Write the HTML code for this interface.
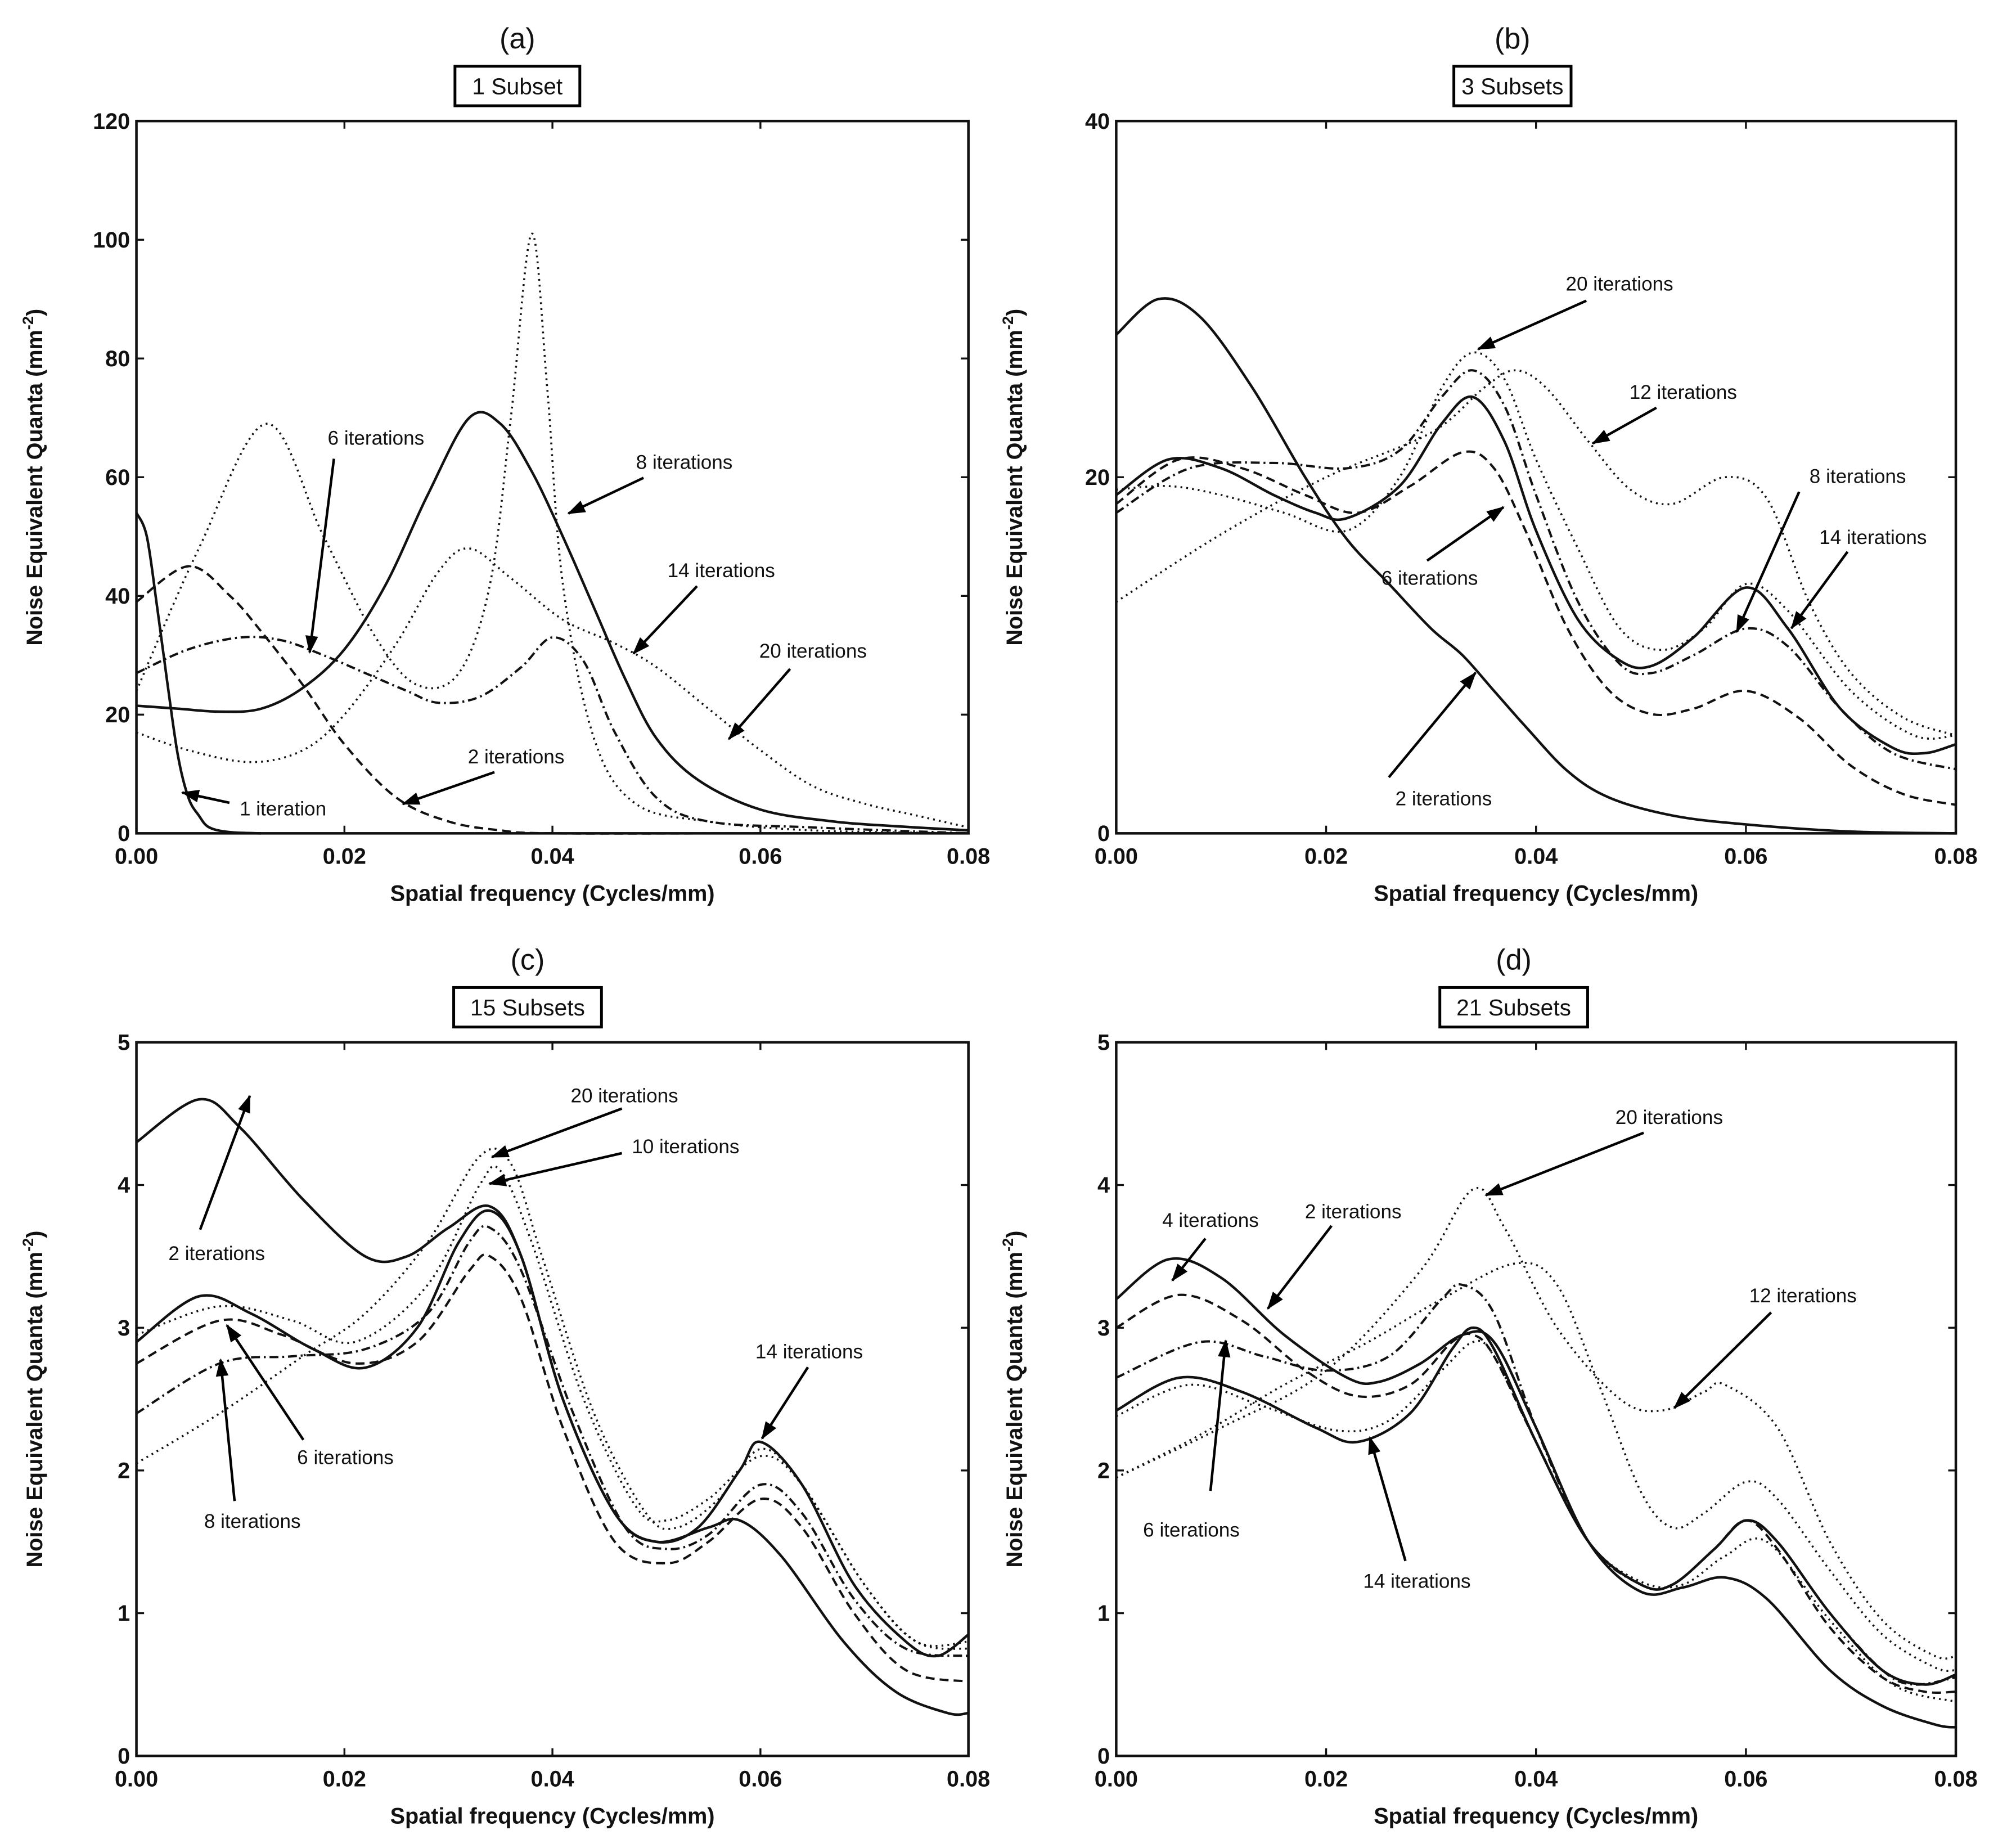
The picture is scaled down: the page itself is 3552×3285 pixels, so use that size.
<!DOCTYPE html>
<html><head><meta charset="utf-8">
<style>
html,body{margin:0;padding:0;background:#fff;}
svg{display:block;}
text{font-family:"Liberation Sans",sans-serif;fill:#111;}
.tick{font-size:17.5px;font-weight:bold;}
.axl{font-size:17.5px;font-weight:bold;}
.ann{font-size:15.5px;}
.plet{font-size:23px;}
.box{font-size:18px;}
</style></head>
<body>
<svg id="fig" width="3552" height="3285" viewBox="0 0 1568 1450.3" xmlns="http://www.w3.org/2000/svg">
<defs><marker id="ah" markerWidth="14" markerHeight="10" refX="13" refY="5" orient="auto" markerUnits="userSpaceOnUse"><path d="M0,0 L14,5 L0,10 z" fill="#000"/></marker></defs>
</svg>
<script>
// ---------- Data ----------
const xTicks = [0, 0.02, 0.04, 0.06, 0.08];
const xTickLabels = ["0.00", "0.02", "0.04", "0.06", "0.08"];
const yTicksA = [0, 20, 40, 60, 80, 100, 120];
const yTicksB = [0, 20, 40];
const yTicksCD = [0, 1, 2, 3, 4, 5];

// Panel (a) – 1 subset
const a_it1_x = [0, 0.001, 0.002, 0.003, 0.004, 0.005, 0.006, 0.007, 0.009, 0.012];
const a_it1_y = [54, 50, 38, 25, 13, 6, 3, 1, 0.2, 0];
const a_it2_x = [0, 0.005, 0.009, 0.012, 0.016, 0.02, 0.025, 0.03, 0.035, 0.04, 0.06, 0.08];
const a_it2_y = [39, 45, 40, 34, 25, 15, 6, 2, 0.5, 0, 0, 0];
const a_it6_x = [0, 0.006, 0.0125, 0.018, 0.023, 0.027, 0.031, 0.034, 0.036, 0.038, 0.0395, 0.041, 0.044, 0.048, 0.055, 0.065, 0.08];
const a_it6_y = [24, 48, 69, 50, 33, 25, 27, 42, 70, 101, 75, 42, 16, 5, 2, 0.5, 0];
const a_it20_x = [0, 0.005, 0.011, 0.016, 0.02, 0.025, 0.029, 0.032, 0.036, 0.041, 0.046, 0.05, 0.055, 0.06, 0.065, 0.07, 0.075, 0.08];
const a_it20_y = [17, 14, 12, 14, 20, 32, 44, 48, 43, 36, 32, 28, 21, 14, 8, 5, 3, 1];
const a_it14_x = [0, 0.005, 0.01, 0.014, 0.018, 0.022, 0.026, 0.029, 0.033, 0.037, 0.04, 0.043, 0.046, 0.05, 0.055, 0.065, 0.08];
const a_it14_y = [27, 31, 33, 32.5, 30, 27, 24, 22, 23, 28, 33, 29, 17, 6, 2, 1, 0];
const a_it8_x = [0, 0.004, 0.008, 0.012, 0.016, 0.02, 0.024, 0.028, 0.032, 0.035, 0.038, 0.041, 0.044, 0.047, 0.05, 0.054, 0.06, 0.067, 0.073, 0.08];
const a_it8_y = [21.5, 21, 20.5, 21, 24.5, 31, 42, 57, 70, 69, 61, 50, 38, 26, 16, 9, 4, 2, 1.2, 0.5];

// Panel (b) – 3 subsets
const b_it2_x = [0, 0.004, 0.008, 0.013, 0.018, 0.022, 0.026, 0.03, 0.033, 0.036, 0.039, 0.043, 0.047, 0.053, 0.06, 0.07, 0.08];
const b_it2_y = [28, 30, 29, 25, 20, 16.5, 14, 11.5, 10, 8, 6, 3.5, 2, 1, 0.5, 0.1, 0];
const b_it8_x = [0, 0.005, 0.01, 0.015, 0.019, 0.022, 0.027, 0.031, 0.034, 0.037, 0.04, 0.044, 0.048, 0.051, 0.055, 0.06, 0.064, 0.069, 0.074, 0.077, 0.08];
const b_it8_y = [19, 21, 20.5, 19, 18, 17.7, 19.5, 23, 24.5, 22, 17, 12, 9.7, 9.4, 11, 13.8, 11.5, 7, 4.8, 4.5, 5];
const b_it6_x = [0, 0.006, 0.012, 0.018, 0.023, 0.028, 0.033, 0.036, 0.039, 0.043, 0.047, 0.051, 0.055, 0.06, 0.065, 0.07, 0.075, 0.08];
const b_it6_y = [18.5, 21, 20.5, 19, 18, 19.5, 21.4, 20.5, 17, 11.5, 8, 6.7, 7, 8, 6.5, 3.8, 2.2, 1.6];
const b_it14_x = [0, 0.007, 0.015, 0.022, 0.027, 0.031, 0.034, 0.037, 0.04, 0.044, 0.048, 0.051, 0.055, 0.06, 0.064, 0.069, 0.074, 0.08];
const b_it14_y = [18, 20.5, 20.8, 20.5, 21.5, 24.5, 26, 24, 19, 13, 9.5, 9, 10, 11.5, 10.5, 7, 4.5, 3.6];
const b_it20_x = [0, 0.005, 0.01, 0.016, 0.022, 0.027, 0.031, 0.034, 0.037, 0.04, 0.044, 0.048, 0.052, 0.056, 0.06, 0.064, 0.07, 0.076, 0.08];
const b_it20_y = [19.3, 19.5, 19, 18, 17, 20, 25, 27, 25.5, 21, 16, 11.5, 10.3, 11.5, 14, 12.5, 8, 5.5, 5.5];
const b_it12_x = [0, 0.01, 0.02, 0.03, 0.035, 0.038, 0.041, 0.045, 0.049, 0.053, 0.058, 0.062, 0.066, 0.07, 0.075, 0.08];
const b_it12_y = [13, 16.8, 20, 22.5, 25, 26, 25, 22, 19.3, 18.5, 20, 18.8, 13, 9, 6.5, 5.5];

// Panel (c) – 15 subsets
const c_it2_x = [0, 0.006, 0.01, 0.016, 0.022, 0.026, 0.03, 0.034, 0.037, 0.041, 0.046, 0.05, 0.055, 0.058, 0.062, 0.068, 0.073, 0.078, 0.08];
const c_it2_y = [4.3, 4.6, 4.4, 3.9, 3.5, 3.5, 3.7, 3.85, 3.5, 2.5, 1.7, 1.5, 1.6, 1.65, 1.4, 0.8, 0.45, 0.3, 0.3];
const c_it14_x = [0, 0.006, 0.011, 0.017, 0.022, 0.027, 0.031, 0.034, 0.037, 0.041, 0.046, 0.05, 0.054, 0.058, 0.06, 0.064, 0.069, 0.074, 0.077, 0.08];
const c_it14_y = [2.9, 3.22, 3.1, 2.85, 2.72, 3.0, 3.6, 3.82, 3.5, 2.5, 1.7, 1.5, 1.6, 2.0, 2.2, 1.9, 1.2, 0.8, 0.7, 0.85];
const c_it6_x = [0, 0.008, 0.014, 0.021, 0.027, 0.032, 0.034, 0.037, 0.041, 0.046, 0.051, 0.055, 0.06, 0.064, 0.069, 0.074, 0.08];
const c_it6_y = [2.75, 3.05, 2.95, 2.75, 2.9, 3.4, 3.5, 3.2, 2.3, 1.5, 1.35, 1.5, 1.8, 1.6, 1.0, 0.6, 0.52];
const c_it8_x = [0, 0.008, 0.015, 0.022, 0.028, 0.032, 0.034, 0.037, 0.042, 0.047, 0.051, 0.055, 0.06, 0.064, 0.069, 0.074, 0.08];
const c_it8_y = [2.4, 2.75, 2.8, 2.85, 3.1, 3.6, 3.7, 3.4, 2.4, 1.6, 1.45, 1.55, 1.9, 1.7, 1.1, 0.75, 0.7];
const c_it10_x = [0, 0.008, 0.015, 0.021, 0.028, 0.033, 0.035, 0.038, 0.043, 0.048, 0.051, 0.055, 0.06, 0.064, 0.07, 0.075, 0.08];
const c_it10_y = [2.95, 3.15, 3.05, 2.9, 3.3, 4.0, 4.1, 3.6, 2.5, 1.75, 1.65, 1.8, 2.1, 1.9, 1.2, 0.8, 0.75];
const c_it20_x = [0, 0.008, 0.016, 0.022, 0.028, 0.033, 0.036, 0.039, 0.044, 0.049, 0.052, 0.056, 0.06, 0.064, 0.07, 0.075, 0.08];
const c_it20_y = [2.05, 2.4, 2.8, 3.1, 3.6, 4.2, 4.15, 3.5, 2.4, 1.7, 1.6, 1.8, 2.15, 1.9, 1.2, 0.8, 0.8];

// Panel (d) – 21 subsets
const d_it2_x = [0, 0.005, 0.01, 0.016, 0.022, 0.025, 0.029, 0.033, 0.036, 0.04, 0.045, 0.05, 0.054, 0.058, 0.062, 0.068, 0.073, 0.078, 0.08];
const d_it2_y = [3.2, 3.48, 3.35, 2.95, 2.65, 2.62, 2.75, 2.95, 2.9, 2.3, 1.5, 1.15, 1.18, 1.25, 1.1, 0.6, 0.35, 0.22, 0.2];
const d_it14_x = [0, 0.006, 0.012, 0.019, 0.023, 0.028, 0.032, 0.034, 0.036, 0.04, 0.045, 0.05, 0.053, 0.057, 0.06, 0.063, 0.068, 0.073, 0.077, 0.08];
const d_it14_y = [2.42, 2.65, 2.55, 2.3, 2.2, 2.4, 2.85, 3.0, 2.85, 2.2, 1.5, 1.2, 1.2, 1.45, 1.65, 1.5, 1.0, 0.6, 0.5, 0.57];
const d_it4_x = [0, 0.006, 0.012, 0.018, 0.023, 0.028, 0.032, 0.034, 0.036, 0.04, 0.045, 0.05, 0.053, 0.057, 0.06, 0.063, 0.068, 0.073, 0.077, 0.08];
const d_it4_y = [3.0, 3.23, 3.05, 2.7, 2.52, 2.6, 2.9, 2.95, 2.8, 2.2, 1.5, 1.2, 1.2, 1.45, 1.65, 1.45, 0.9, 0.55, 0.45, 0.45];
const d_it6_x = [0, 0.008, 0.014, 0.02, 0.026, 0.031, 0.033, 0.036, 0.04, 0.045, 0.05, 0.053, 0.057, 0.06, 0.063, 0.068, 0.073, 0.076, 0.08];
const d_it6_y = [2.65, 2.9, 2.8, 2.7, 2.8, 3.2, 3.3, 3.1, 2.3, 1.5, 1.2, 1.2, 1.45, 1.65, 1.5, 1.0, 0.6, 0.5, 0.55];
const d_it8_x = [0, 0.007, 0.014, 0.021, 0.026, 0.031, 0.034, 0.036, 0.04, 0.045, 0.05, 0.054, 0.058, 0.062, 0.068, 0.074, 0.08];
const d_it8_y = [2.38, 2.6, 2.45, 2.28, 2.35, 2.7, 2.9, 2.8, 2.2, 1.5, 1.22, 1.2, 1.4, 1.5, 0.95, 0.5, 0.38];
const d_it12_x = [0, 0.008, 0.016, 0.024, 0.031, 0.038, 0.042, 0.046, 0.05, 0.053, 0.056, 0.06, 0.063, 0.068, 0.073, 0.078, 0.08];
const d_it12_y = [1.95, 2.25, 2.6, 2.9, 3.2, 3.45, 3.3, 2.6, 1.85, 1.6, 1.7, 1.92, 1.8, 1.3, 0.85, 0.62, 0.6];
const d_it20_x = [0, 0.01, 0.02, 0.029, 0.034, 0.037, 0.042, 0.048, 0.052, 0.056, 0.058, 0.063, 0.068, 0.073, 0.078, 0.08];
const d_it20_y = [1.95, 2.3, 2.7, 3.4, 3.97, 3.7, 3.0, 2.5, 2.42, 2.55, 2.6, 2.3, 1.5, 0.95, 0.7, 0.7];

// ---------- Rendering ----------
const NS = "http://www.w3.org/2000/svg";
const svg = document.getElementById("fig");
function mk(tag, attrs, parent) {
  const e = document.createElementNS(NS, tag);
  for (const k in attrs) e.setAttribute(k, attrs[k]);
  (parent || svg).appendChild(e);
  return e;
}
function smoothPath(pts) {
  let d = "M" + pts[0][0].toFixed(2) + "," + pts[0][1].toFixed(2);
  for (let i = 0; i < pts.length - 1; i++) {
    const p0 = pts[Math.max(i - 1, 0)], p1 = pts[i], p2 = pts[i + 1], p3 = pts[Math.min(i + 2, pts.length - 1)];
    const c1x = p1[0] + (p2[0] - p0[0]) / 6, c1y = p1[1] + (p2[1] - p0[1]) / 6;
    const c2x = p2[0] - (p3[0] - p1[0]) / 6, c2y = p2[1] - (p3[1] - p1[1]) / 6;
    d += " C" + c1x.toFixed(2) + "," + c1y.toFixed(2) + " " + c2x.toFixed(2) + "," + c2y.toFixed(2) + " " + p2[0].toFixed(2) + "," + p2[1].toFixed(2);
  }
  return d;
}
const STY = {
  solid: { w: 2, dash: "" },
  dashed: { w: 1.8, dash: "7 4" },
  dashdot: { w: 1.8, dash: "7 3 1.5 3" },
  dotted: { w: 1.6, dash: "1.4 3.2" }
};

function panel(cfg) {
  const g = mk("g", {});
  
  
  const X = v => cfg.x0 + (v - 0) / 0.08 * (cfg.x1 - cfg.x0);
  const Y = v => cfg.yb - v / cfg.ymax * (cfg.yb - cfg.yt);
  const cx = (cfg.x0 + cfg.x1) / 2;
  const tcx = cfg.tcx;
  const lt = mk("text", { x: tcx, y: cfg.yt - 57, "text-anchor": "middle", class: "plet" }, g);
  lt.textContent = cfg.letter;
  
  
  const bw = cfg.boxW;
  const bx = mk("rect", { x: tcx - bw / 2, y: cfg.yt - 43, width: bw, height: 31, fill: "#fff", stroke: "#000", "stroke-width": 2.2 }, g);
  
  
  const bt = mk("text", { x: tcx, y: cfg.yt - 21, "text-anchor": "middle", class: "box" }, g);
  bt.textContent = cfg.title;
  
  
  cfg.series.forEach(s => {
    const pts = s.x.map((xv, i) => [X(xv), Y(s.y[i])]);
    const st = STY[s.style];
    const p = mk("path", { d: smoothPath(pts), fill: "none", stroke: "#111", "stroke-width": st.w, "stroke-dasharray": st.dash, "stroke-linejoin": "round" }, g);
    
    
  });
  const fr = mk("rect", { x: cfg.x0, y: cfg.yt, width: cfg.x1 - cfg.x0, height: cfg.yb - cfg.yt, fill: "none", stroke: "#111", "stroke-width": 2 }, g);
  
  
  xTicks.forEach((t, i) => {
    mk("line", { x1: X(t), x2: X(t), y1: cfg.yb, y2: cfg.yb - 6, stroke: "#111", "stroke-width": 1.5 }, g);
    mk("line", { x1: X(t), x2: X(t), y1: cfg.yt, y2: cfg.yt + 6, stroke: "#111", "stroke-width": 1.5 }, g);
    const tl = mk("text", { x: X(t), y: cfg.yb + 24, "text-anchor": "middle", class: "tick" }, g);
    tl.textContent = xTickLabels[i];
    
    
  });
  cfg.yTicks.forEach(t => {
    mk("line", { x1: cfg.x0, x2: cfg.x0 + 6, y1: Y(t), y2: Y(t), stroke: "#111", "stroke-width": 1.5 }, g);
    mk("line", { x1: cfg.x1, x2: cfg.x1 - 6, y1: Y(t), y2: Y(t), stroke: "#111", "stroke-width": 1.5 }, g);
    const tl = mk("text", { x: cfg.x0 - 5, y: Y(t) + 6, "text-anchor": "end", class: "tick" }, g);
    tl.textContent = String(t);
    
    
  });
  const xt = mk("text", { x: cx, y: cfg.yb + 53, "text-anchor": "middle", class: "axl" }, g);
  xt.textContent = "Spatial frequency (Cycles/mm)";
  
  
  const ym = (cfg.yt + cfg.yb) / 2;
  const yt = mk("text", { x: 0, y: 0, "text-anchor": "middle", class: "axl", transform: "translate(" + (cfg.x0 - 74) + "," + ym + ") rotate(-90)" }, g);
  yt.innerHTML = 'Noise Equivalent Quanta (mm<tspan dy="-7" font-size="12">-2</tspan><tspan dy="7">)</tspan>';
  
  
  cfg.ann.forEach(a => {
    const l = mk("line", { x1: a[3], y1: a[4], x2: a[5], y2: a[6], stroke: "#000", "stroke-width": 2, "marker-end": "url(#ah)" }, g);
    
    
    const t = mk("text", { x: a[1], y: a[2] + 6, "text-anchor": "middle", class: "ann" }, g);
    t.textContent = a[0];
    
    
  });
}

panel({ name: "panel-a-1-subset", letter: "(a)", title: "1 Subset", boxW: 98, tcx: 406, x0: 107, x1: 760, yt: 95, yb: 654, ymax: 120, yTicks: yTicksA,
  series: [
    { name: "a-1-iteration", x: a_it1_x, y: a_it1_y, style: "solid" },
    { name: "a-2-iterations", x: a_it2_x, y: a_it2_y, style: "dashed" },
    { name: "a-6-iterations", x: a_it6_x, y: a_it6_y, style: "dotted" },
    { name: "a-20-iterations", x: a_it20_x, y: a_it20_y, style: "dotted" },
    { name: "a-14-iterations", x: a_it14_x, y: a_it14_y, style: "dashdot" },
    { name: "a-8-iterations", x: a_it8_x, y: a_it8_y, style: "solid" }],
  ann: [["6 iterations", 295, 343, 262, 360, 243, 512], ["8 iterations", 537, 362, 505, 375, 446, 403],
        ["14 iterations", 566, 447, 547, 460, 497, 513], ["20 iterations", 638, 510, 620, 525, 572, 580],
        ["2 iterations", 405, 593, 388, 606, 316, 631], ["1 iteration", 222, 634, 180, 630, 143, 622]] });

panel({ name: "panel-b-3-subsets", letter: "(b)", title: "3 Subsets", boxW: 92, tcx: 1187, x0: 876, x1: 1535, yt: 95, yb: 654, ymax: 40, yTicks: yTicksB,
  series: [
    { name: "b-2-iterations", x: b_it2_x, y: b_it2_y, style: "solid" },
    { name: "b-8-iterations", x: b_it8_x, y: b_it8_y, style: "solid" },
    { name: "b-6-iterations", x: b_it6_x, y: b_it6_y, style: "dashed" },
    { name: "b-14-iterations", x: b_it14_x, y: b_it14_y, style: "dashdot" },
    { name: "b-20-iterations", x: b_it20_x, y: b_it20_y, style: "dotted" },
    { name: "b-12-iterations", x: b_it12_x, y: b_it12_y, style: "dotted" }],
  ann: [["20 iterations", 1271, 222, 1245, 236, 1160, 274], ["12 iterations", 1321, 307, 1300, 320, 1250, 348],
        ["8 iterations", 1458, 373, 1412, 386, 1363, 496], ["14 iterations", 1470, 421, 1450, 433, 1406, 493],
        ["6 iterations", 1122, 453, 1120, 440, 1180, 398], ["2 iterations", 1133, 626, 1090, 610, 1158, 528]] });

panel({ name: "panel-c-15-subsets", letter: "(c)", title: "15 Subsets", boxW: 116, tcx: 414, x0: 107, x1: 760, yt: 818, yb: 1378, ymax: 5, yTicks: yTicksCD,
  series: [
    { name: "c-2-iterations", x: c_it2_x, y: c_it2_y, style: "solid" },
    { name: "c-14-iterations", x: c_it14_x, y: c_it14_y, style: "solid" },
    { name: "c-6-iterations", x: c_it6_x, y: c_it6_y, style: "dashed" },
    { name: "c-8-iterations", x: c_it8_x, y: c_it8_y, style: "dashdot" },
    { name: "c-10-iterations", x: c_it10_x, y: c_it10_y, style: "dotted" },
    { name: "c-20-iterations", x: c_it20_x, y: c_it20_y, style: "dotted" }],
  ann: [["20 iterations", 490, 859, 488, 870, 386, 908], ["10 iterations", 538, 899, 488, 905, 384, 929],
        ["2 iterations", 170, 983, 157, 965, 196, 860], ["6 iterations", 271, 1143, 238, 1130, 178, 1040],
        ["8 iterations", 198, 1193, 184, 1178, 173, 1067], ["14 iterations", 635, 1060, 634, 1073, 598, 1129]] });

panel({ name: "panel-d-21-subsets", letter: "(d)", title: "21 Subsets", boxW: 116, tcx: 1188, x0: 876, x1: 1535, yt: 818, yb: 1378, ymax: 5, yTicks: yTicksCD,
  series: [
    { name: "d-2-iterations", x: d_it2_x, y: d_it2_y, style: "solid" },
    { name: "d-14-iterations", x: d_it14_x, y: d_it14_y, style: "solid" },
    { name: "d-4-iterations", x: d_it4_x, y: d_it4_y, style: "dashed" },
    { name: "d-6-iterations", x: d_it6_x, y: d_it6_y, style: "dashdot" },
    { name: "d-8-iterations", x: d_it8_x, y: d_it8_y, style: "dotted" },
    { name: "d-12-iterations", x: d_it12_x, y: d_it12_y, style: "dotted" },
    { name: "d-20-iterations", x: d_it20_x, y: d_it20_y, style: "dotted" }],
  ann: [["20 iterations", 1310, 876, 1290, 889, 1166, 938], ["4 iterations", 950, 957, 946, 972, 920, 1005],
        ["2 iterations", 1062, 950, 1045, 962, 995, 1027], ["12 iterations", 1415, 1016, 1390, 1030, 1314, 1105],
        ["6 iterations", 935, 1200, 950, 1170, 962, 1052], ["14 iterations", 1112, 1240, 1103, 1225, 1075, 1128]] });
</script>
</body></html>
